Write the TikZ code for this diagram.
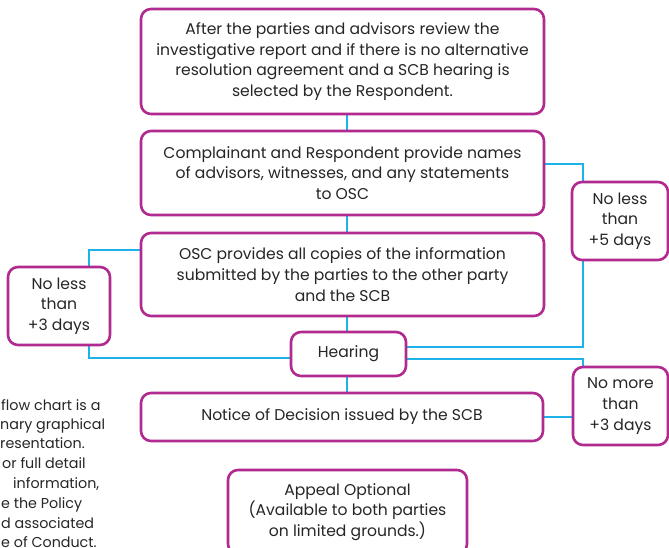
\documentclass[tikz,border=0pt]{standalone}
\usepackage{fontspec}
\setmainfont{Poppins}
\usetikzlibrary{backgrounds}
\definecolor{mag}{HTML}{B02A8F}
\definecolor{sky}{HTML}{1DB3E8}
\begin{document}
\begin{tikzpicture}[x=1pt,y=-1pt,
  box/.style={draw=mag, line width=2.6pt, rounded corners=10pt, fill=white,
    align=center, inner sep=0pt, text=black!85,
    font=\fontsize{15.6}{20.7}\selectfont},
  link/.style={draw=sky, line width=2.6pt},
  note/.style={anchor=base west, inner sep=0pt, text=black!85,
    font=\fontsize{14.3}{20}\selectfont}]
\useasboundingbox (0,0) rectangle (669,548);
% main column
\node[box, minimum width=403pt, minimum height=105pt] (top) at (342.5,61.5)
  {After the parties and advisors review the\\investigative report and if there is no alternative\\resolution agreement and a SCB hearing is\\selected by the Respondent.};
\node[box, minimum width=403pt, minimum height=84pt] (b2) at (342.5,173)
  {Complainant and Respondent provide names\\of advisors, witnesses, and any statements\\to OSC};
\node[box, minimum width=403pt, minimum height=83pt] (b3) at (342.5,274.5)
  {OSC provides all copies of the information\\submitted by the parties to the other party\\and the SCB};
\node[box, minimum width=115pt, minimum height=44pt] (hear) at (348.5,354) {Hearing};
\node[box, minimum width=402pt, minimum height=48pt] (notice) at (342,417) {Notice of Decision issued by the SCB};
\node[box, minimum width=239pt, minimum height=84pt] (appeal) at (347.5,512)
  {Appeal Optional\\(Available to both parties\\on limited grounds.)};
% side boxes
\node[box, minimum width=96pt, minimum height=78pt] (r5) at (620,221) {No less\\than\\+5 days};
\node[box, minimum width=102pt, minimum height=78pt] (l3) at (59,306) {No less\\than\\+3 days};
\node[box, minimum width=95pt, minimum height=78pt] (rm) at (620.5,406) {No more\\than\\+3 days};
% connector corners
\coordinate (spine) at (347,0);
\coordinate (rA) at (583,164);
\coordinate (rB) at (583,347);
\coordinate (rC) at (583,359);
\coordinate (lA) at (89,250);
\coordinate (lB) at (89,358);
\begin{scope}[on background layer]
  \draw[link] (top.south -| spine) -- (b2.north -| spine);
  \draw[link] (b2.south -| spine) -- (b3.north -| spine);
  \draw[link] (b3.south -| spine) -- (hear.north -| spine);
  \draw[link] (hear.south -| spine) -- (notice.north -| spine);
  \draw[link] (b2.east |- rA) -- (rA) -- (rB) -- (hear.east |- rB);
  \draw[link] (hear.east |- rC) -- (rC) -- (rm.north -| rC);
  \draw[link] (notice.east) -- (notice.east -| rm.west);
  \draw[link] (b3.west |- lA) -- (lA) -- (lB) -- (hear.west |- lB);
\end{scope}
% clipped side note
\node[note] (n1) at (1,410) {flow chart is a};
\node[note] (n2) at (0,429) {nary graphical};
\node[note] (n3) at (0,448) {resentation.};
\node[note] (n4) at (2,468) {or full detail};
\node[note] (n5) at (13,488) {information,};
\node[note] (n6) at (1,508) {e the Policy};
\node[note] (n7) at (1,528) {d associated};
\node[note] (n8) at (1,547) {e of Conduct.};
\end{tikzpicture}
\end{document}
